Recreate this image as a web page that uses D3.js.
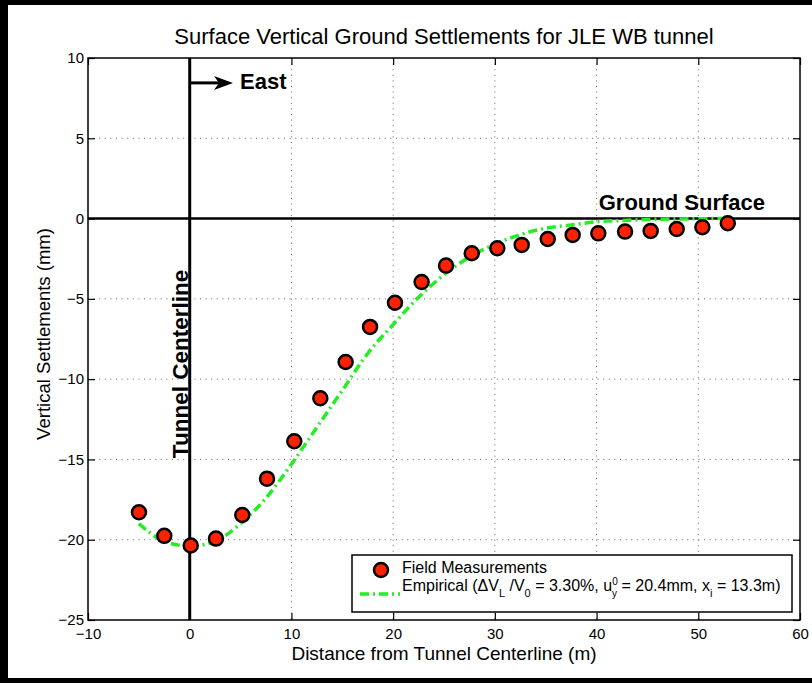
<!DOCTYPE html>
<html>
<head>
<meta charset="utf-8">
<script src="https://cdn.jsdelivr.net/npm/d3@7"></script>
<style>
  html, body { margin: 0; padding: 0; background: #fff; }
  svg { display: block; font-family: "Liberation Sans", Arial, Helvetica, sans-serif; }
</style>
</head>
<body>
<svg id="chart" width="812" height="683"></svg>
<script>
// ---- data ----
const fieldX = [-4.99, -2.5, 0.1, 2.58, 5.17, 7.6, 10.28, 12.84, 15.33, 17.73, 20.18, 22.8, 25.2, 27.73, 30.24, 32.64, 35.2, 37.65, 40.17, 42.8, 45.32, 47.88, 50.4, 52.9];
const fieldY = [-18.29, -19.76, -20.36, -19.93, -18.46, -16.2, -13.87, -11.19, -8.93, -6.75, -5.24, -3.95, -2.93, -2.16, -1.85, -1.64, -1.27, -1.02, -0.92, -0.81, -0.77, -0.65, -0.54, -0.29];
const empX = [-5, -2.5, 0, 2.5, 5, 7.5, 10, 12.5, 15, 17.5, 20, 22.5, 25, 27.5, 30, 32.5, 35, 37.5, 40, 42.5, 45, 47.5, 50, 52.5, 53];
const empY = [-19.0, -20.1, -20.4, -20.1, -19.0, -17.4, -15.3, -13.0, -10.7, -8.4, -6.6, -4.9, -3.5, -2.4, -1.6, -1.0, -0.6, -0.4, -0.2, -0.12, -0.06, -0.03, -0.01, 0.0, 0.0];
const xTicks = [-10, 0, 10, 20, 30, 40, 50, 60];
const yTicks = [-25, -20, -15, -10, -5, 0, 5, 10];
const titleText = "Surface Vertical Ground Settlements for JLE WB tunnel";
const xLabelText = "Distance from Tunnel Centerline (m)";
const yLabelText = "Vertical Settlements (mm)";
const legendField = "Field Measurements";

// ---- layout ----
const svg = d3.select("#chart");
const L = 88, R = 800, T = 58, B = 620;
const x = d3.scaleLinear().domain([-10, 60]).range([L, R]);
const y = d3.scaleLinear().domain([-25, 10]).range([B, T]);
const RED = "#ff2200", GREEN = "#22ee22";

// outer frame (partial thick border)
svg.append("rect").attr("x", 0).attr("y", 0).attr("width", 812).attr("height", 683).attr("fill", "#fff");
svg.append("rect").attr("x", 0).attr("y", 0).attr("width", 8).attr("height", 683).attr("fill", "#000");
svg.append("rect").attr("x", 0).attr("y", 0).attr("width", 812).attr("height", 5).attr("fill", "#000");
svg.append("rect").attr("x", 0).attr("y", 678).attr("width", 812).attr("height", 5).attr("fill", "#000");

// grid
const grid = svg.append("g").attr("stroke", "#666").attr("stroke-width", 1).attr("stroke-dasharray", "1,4.6");
grid.selectAll("line.gx").data(xTicks.filter(d => d > -10 && d < 60 && d !== 0)).join("line")
  .attr("x1", d => x(d)).attr("x2", d => x(d)).attr("y1", T).attr("y2", B);
grid.selectAll("line.gy").data(yTicks.filter(d => d > -25 && d < 10 && d !== 0)).join("line")
  .attr("y1", d => y(d)).attr("y2", d => y(d)).attr("x1", L).attr("x2", R);

// axes
function styleAxis(g) {
  g.select(".domain").remove();
  g.selectAll(".tick line").attr("stroke", "#000").attr("stroke-width", 1.2);
  g.selectAll(".tick text").attr("fill", "#000").style("font-size", "15px")
    .style("font-family", '"Liberation Sans", Arial, sans-serif');
}
svg.append("g").attr("transform", `translate(0,${B})`)
  .call(d3.axisBottom(x).tickValues(xTicks).tickSize(-7).tickPadding(8)).call(styleAxis);
svg.append("g").attr("transform", `translate(0,${T})`)
  .call(d3.axisTop(x).tickValues(xTicks).tickSize(-7).tickFormat("")).call(styleAxis);
svg.append("g").attr("transform", `translate(${L},0)`)
  .call(d3.axisLeft(y).tickValues(yTicks).tickSize(-7).tickPadding(4)).call(styleAxis);
svg.append("g").attr("transform", `translate(${R},0)`)
  .call(d3.axisRight(y).tickValues(yTicks).tickSize(-7).tickFormat("")).call(styleAxis);

// box
svg.append("rect").attr("x", L).attr("y", T).attr("width", R - L).attr("height", B - T)
  .attr("fill", "none").attr("stroke", "#000").attr("stroke-width", 1.5);

// ground surface line and centerline
svg.append("line").attr("x1", L).attr("x2", R).attr("y1", y(0)).attr("y2", y(0))
  .attr("stroke", "#000").attr("stroke-width", 2.5);
svg.append("line").attr("x1", x(0)).attr("x2", x(0)).attr("y1", T).attr("y2", B)
  .attr("stroke", "#000").attr("stroke-width", 3);

// empirical curve
const line = d3.line().x((d, i) => x(empX[i])).y((d, i) => y(empY[i])).curve(d3.curveMonotoneX);
svg.append("path").attr("d", line(empX)).attr("fill", "none").attr("stroke", GREEN)
  .attr("stroke-width", 3.5).attr("stroke-dasharray", "9,4,2,4");

// field points
svg.append("g").selectAll("circle").data(fieldX).join("circle")
  .attr("cx", (d, i) => x(fieldX[i])).attr("cy", (d, i) => y(fieldY[i])).attr("r", 7)
  .attr("fill", RED).attr("stroke", "#000").attr("stroke-width", 2.5);

// arrow to East
const ay = y(8.45);
svg.append("line").attr("x1", x(0)).attr("x2", 220).attr("y1", ay).attr("y2", ay)
  .attr("stroke", "#000").attr("stroke-width", 3);
svg.append("path").attr("d", `M233,${ay} L214,${ay - 7} L219,${ay} L214,${ay + 7} Z`).attr("fill", "#000");
svg.append("text").attr("x", 240).attr("y", 89).attr("font-size", 22).attr("font-weight", "bold").text("East");

// annotations
svg.append("text").attr("x", 765).attr("y", 210).attr("text-anchor", "end")
  .attr("font-size", 22).attr("font-weight", "bold").text("Ground Surface");
svg.append("text").attr("transform", "translate(188,364) rotate(-90)").attr("text-anchor", "middle")
  .attr("font-size", 22.5).attr("font-weight", "bold").text("Tunnel Centerline");

// title and labels
svg.append("text").attr("x", (L + R) / 2).attr("y", 44).attr("text-anchor", "middle")
  .attr("font-size", 22).text(titleText);
svg.append("text").attr("x", (L + R) / 2).attr("y", 660).attr("text-anchor", "middle")
  .attr("font-size", 19).text(xLabelText);
svg.append("text").attr("transform", "translate(50,334) rotate(-90)").attr("text-anchor", "middle")
  .attr("font-size", 18.5).text(yLabelText);

// legend
const lg = svg.append("g");
lg.append("rect").attr("x", 352).attr("y", 555).attr("width", 440).attr("height", 57)
  .attr("fill", "#fff").attr("stroke", "#000").attr("stroke-width", 1.5);
lg.append("circle").attr("cx", 381).attr("cy", 570).attr("r", 7)
  .attr("fill", RED).attr("stroke", "#000").attr("stroke-width", 2.5);
lg.append("line").attr("x1", 360).attr("x2", 400).attr("y1", 594).attr("y2", 594)
  .attr("stroke", GREEN).attr("stroke-width", 3.5).attr("stroke-dasharray", "9,4,2,4");
lg.append("text").attr("x", 402).attr("y", 573).attr("font-size", 16).text(legendField);
const t2 = lg.append("text").attr("x", 402).attr("y", 591).attr("font-size", 16);
const parts = [
  { t: "Empirical (\u0394V" },
  { t: "L", s: 11, dy: 5.5 },
  { t: " /V", dy: -5.5 },
  { t: "0", s: 11, dy: 5.5 },
  { t: " = 3.30%, u", dy: -5.5 },
  { t: "0", s: 10, dy: -6.5 },
  { t: "y", s: 10, dy: 12, dx: -5.6 },
  { t: " = 20.4mm, x", dy: -5.5 },
  { t: "i", s: 11, dy: 5.5 },
  { t: " = 13.3m)", dy: -5.5 }
];
parts.forEach(p => {
  const ts = t2.append("tspan").text(p.t);
  if (p.s) ts.attr("font-size", p.s);
  if (p.dy) ts.attr("dy", p.dy);
  if (p.dx) ts.attr("dx", p.dx);
});
</script>
</body>
</html>
